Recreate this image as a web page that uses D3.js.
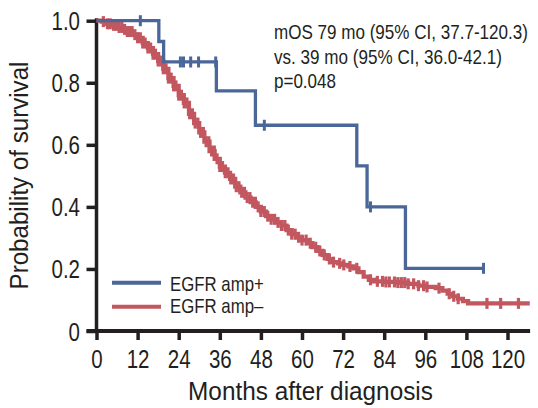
<!DOCTYPE html>
<html>
<head>
<meta charset="utf-8">
<script src="https://cdn.jsdelivr.net/npm/d3@7"></script>
<style>
  html, body { margin: 0; padding: 0; background: #fff; }
  svg { display: block; }
  text { font-family: "Liberation Sans Narrow", "Arial Narrow", "Liberation Sans", sans-serif; fill: #231f20; }
</style>
</head>
<body>
<svg id="chart" width="538" height="408"></svg>
<script>
// ---- data ----
const xTicks = [0, 12, 24, 36, 48, 60, 72, 84, 96, 108, 120];
const yTicks = [0, 0.2, 0.4, 0.6, 0.8, 1.0];
const yTickLabels = ["0", "0.2", "0.4", "0.6", "0.8", "1.0"];

const seriesNames = ["EGFR amp+", "EGFR amp\u2013"];

// EGFR amp+ (Kaplan-Meier steps)
const blueTimes = [0, 18.2, 19.6, 35.0, 46.4, 76.0, 79.0, 90.2];
const blueSurv  = [1.0, 0.933, 0.867, 0.774, 0.663, 0.532, 0.400, 0.202];
const blueEnd = 113;
const blueCensor = [12.8, 24.5, 25.4, 27.5, 29.8, 34.8, 49.0, 80.0, 113];

// EGFR amp- (Kaplan-Meier steps)
const redTimes = [0, 1.5, 3, 4.5, 6, 7.5, 9, 10.5, 12, 13.5, 15, 16.5, 18, 19.5, 21, 22.5, 24, 25.5, 27, 28.5,
  30, 31.5, 33, 34.5, 36, 37.5, 39, 40.5, 42, 43.5, 45, 46.5, 48, 49.5, 51, 52.5, 54, 55.5, 57, 58.5,
  60, 61.5, 63, 64.5, 66, 67.5, 69, 70.5, 72, 73.5, 75, 76.5, 78, 79.5, 81, 84, 88, 91, 94, 96, 99,
  101, 102.5, 104, 105.5, 107, 108.5];
const redSurv = [1.0, 0.997, 0.99, 0.985, 0.978, 0.972, 0.965, 0.955, 0.945, 0.928, 0.912, 0.892, 0.87, 0.845, 0.815, 0.79, 0.76, 0.735, 0.70, 0.67,
  0.64, 0.61, 0.58, 0.555, 0.53, 0.51, 0.49, 0.465, 0.447, 0.43, 0.415, 0.40, 0.385, 0.37, 0.36, 0.35, 0.34, 0.325, 0.312, 0.302,
  0.293, 0.283, 0.27, 0.258, 0.245, 0.232, 0.222, 0.218, 0.213, 0.208, 0.202, 0.19, 0.175, 0.165, 0.16, 0.158, 0.156, 0.152, 0.146, 0.142, 0.138,
  0.13, 0.12, 0.112, 0.104, 0.096, 0.089];
const redEnd = 126.5;
const redCensor = [2, 3.2, 4, 5, 5.8, 6.6, 7.4, 8.2, 9, 9.7, 10.4, 11.2, 12, 12.8, 13.5, 14.2, 15, 15.8, 16.5, 17.2,
  18, 18.8, 19.5, 20.3, 21, 21.8, 22.5, 23.2, 24, 24.8, 25.6, 26.4, 27.2, 28, 28.8, 29.6, 30.4, 31.2, 32, 32.8,
  33.6, 34.4, 35.2, 36, 36.8, 37.6, 38.4, 39.2, 40, 40.8, 41.6, 42.4, 43.2, 44, 44.8, 45.6, 46.4, 47.2, 48, 49,
  50, 51, 52, 53, 54, 55, 56, 57, 58, 59, 60, 61.2, 62.4, 64, 65.2, 66.5, 68, 69.2, 71, 72.2, 74, 76,
  80, 82, 83.5, 84.5, 85.5, 87, 88, 89, 90, 91, 92.6, 94, 95.5, 96.5, 100, 103, 104.3, 105.6, 114, 118, 123.2];

// ---- layout ----
const blue = "#4b6699", red = "#c2575f", ink = "#231f20";
const svg = d3.select("#chart");
const x = d3.scaleLinear().domain([0, 120]).range([96.5, 507.5]);
const y = d3.scaleLinear().domain([0, 1]).range([331, 20.7]);

// squeeze a text horizontally (condensed look) via transform, keeping its anchor
function squeeze(sel, sx, extra) {
  sel.each(function () {
    const t = d3.select(this);
    const tx = +t.attr("x") || 0, ty = +t.attr("y") || 0;
    t.attr("x", 0).attr("y", 0)
      .attr("transform", `translate(${tx},${ty})${extra || ""} scale(${sx},1)`);
  });
}
function fitWidth(sel, width, extra) {
  sel.each(function () {
    const w = this.getComputedTextLength();
    squeeze(d3.select(this), width / w, extra);
  });
}
const NARROW = 0.82;

// axes
const yAxis = d3.axisLeft(y).tickValues(yTicks).tickSize(10).tickSizeOuter(0).tickPadding(6)
  .tickFormat((d, i) => yTickLabels[i]);
const gy = svg.append("g").attr("transform", `translate(${x(0)},0)`).call(yAxis);
gy.select(".domain").remove();
gy.selectAll(".tick line").attr("stroke", ink).attr("stroke-width", 3.5);
gy.selectAll(".tick text").attr("font-size", 25).attr("fill", ink).attr("font-family", null)
  .attr("dy", "0.36em").attr("x", -16.5).call(squeeze, NARROW);

const xAxis = d3.axisBottom(x).tickValues(xTicks).tickSize(9).tickSizeOuter(0).tickPadding(6);
const gx = svg.append("g").attr("transform", `translate(0,${y(0)})`).call(xAxis);
gx.select(".domain").remove();
gx.selectAll(".tick line").attr("stroke", ink).attr("stroke-width", 3.5);
gx.selectAll(".tick text").attr("font-size", 25).attr("fill", ink).attr("font-family", null)
  .attr("dy", null).attr("y", 37).call(squeeze, NARROW);

// axis lines
svg.append("line").attr("x1", x(0)).attr("x2", x(0)).attr("y1", y(1) - 2.5).attr("y2", y(0) + 2)
  .attr("stroke", ink).attr("stroke-width", 3.5);
svg.append("line").attr("x1", x(0) - 10).attr("x2", x(126.6)).attr("y1", y(0)).attr("y2", y(0))
  .attr("stroke", ink).attr("stroke-width", 3.8);

// curves
function stepPts(times, surv, end) {
  const pts = times.map((t, i) => [t, surv[i]]);
  pts.push([end, surv[surv.length - 1]]);
  return pts;
}
function survAt(times, surv, t) {
  const i = d3.bisectRight(times, t) - 1;
  return surv[Math.max(0, i)];
}
const line = d3.line().x(d => x(d[0])).y(d => y(d[1])).curve(d3.curveStepAfter);

svg.append("path").datum(stepPts(redTimes, redSurv, redEnd)).attr("d", line)
  .attr("fill", "none").attr("stroke", red).attr("stroke-width", 4.2);
svg.append("g").selectAll("line").data(redCensor).join("line")
  .attr("x1", d => x(d)).attr("x2", d => x(d))
  .attr("y1", d => y(survAt(redTimes, redSurv, d)) - 5.5)
  .attr("y2", d => y(survAt(redTimes, redSurv, d)) + 5.5)
  .attr("stroke", red).attr("stroke-width", 3.2);

svg.append("path").datum(stepPts(blueTimes, blueSurv, blueEnd)).attr("d", line)
  .attr("fill", "none").attr("stroke", blue).attr("stroke-width", 3.3);
svg.append("g").selectAll("line").data(blueCensor).join("line")
  .attr("x1", d => x(d)).attr("x2", d => x(d))
  .attr("y1", d => y(survAt(blueTimes, blueSurv, d)) - 5.5)
  .attr("y2", d => y(survAt(blueTimes, blueSurv, d)) + 5.5)
  .attr("stroke", blue).attr("stroke-width", 3);

// axis titles
svg.append("text").attr("x", 310.5).attr("y", 400).attr("text-anchor", "middle")
  .attr("font-size", 26).text("Months after diagnosis").call(fitWidth, 245);
svg.append("text").attr("x", 28).attr("y", 175.5).attr("text-anchor", "middle")
  .attr("font-size", 26.5).text("Probability of survival").call(fitWidth, 228, " rotate(-90)");

// annotation
const notes = ["mOS 79 mo (95% CI, 37.7-120.3)", "vs. 39 mo (95% CI, 36.0-42.1)", "p=0.048"];
const noteWidths = [254, 228, 62];
svg.append("g").selectAll("text").data(notes).join("text")
  .attr("x", 274).attr("y", (d, i) => 39 + i * 24.5)
  .attr("font-size", 20).text(d => d)
  .each(function (d, i) { fitWidth(d3.select(this), noteWidths[i]); });

// legend
const lg = svg.append("g");
[blue, red].forEach((c, i) => {
  lg.append("line").attr("x1", 112).attr("x2", 161).attr("y1", 282.7 + i * 24).attr("y2", 282.7 + i * 24)
    .attr("stroke", c).attr("stroke-width", 4);
  lg.append("text").attr("x", 170).attr("y", 290.7 + i * 22.7).attr("font-size", 20.5)
    .text(seriesNames[i]).call(squeeze, NARROW);
});
</script>
</body>
</html>
